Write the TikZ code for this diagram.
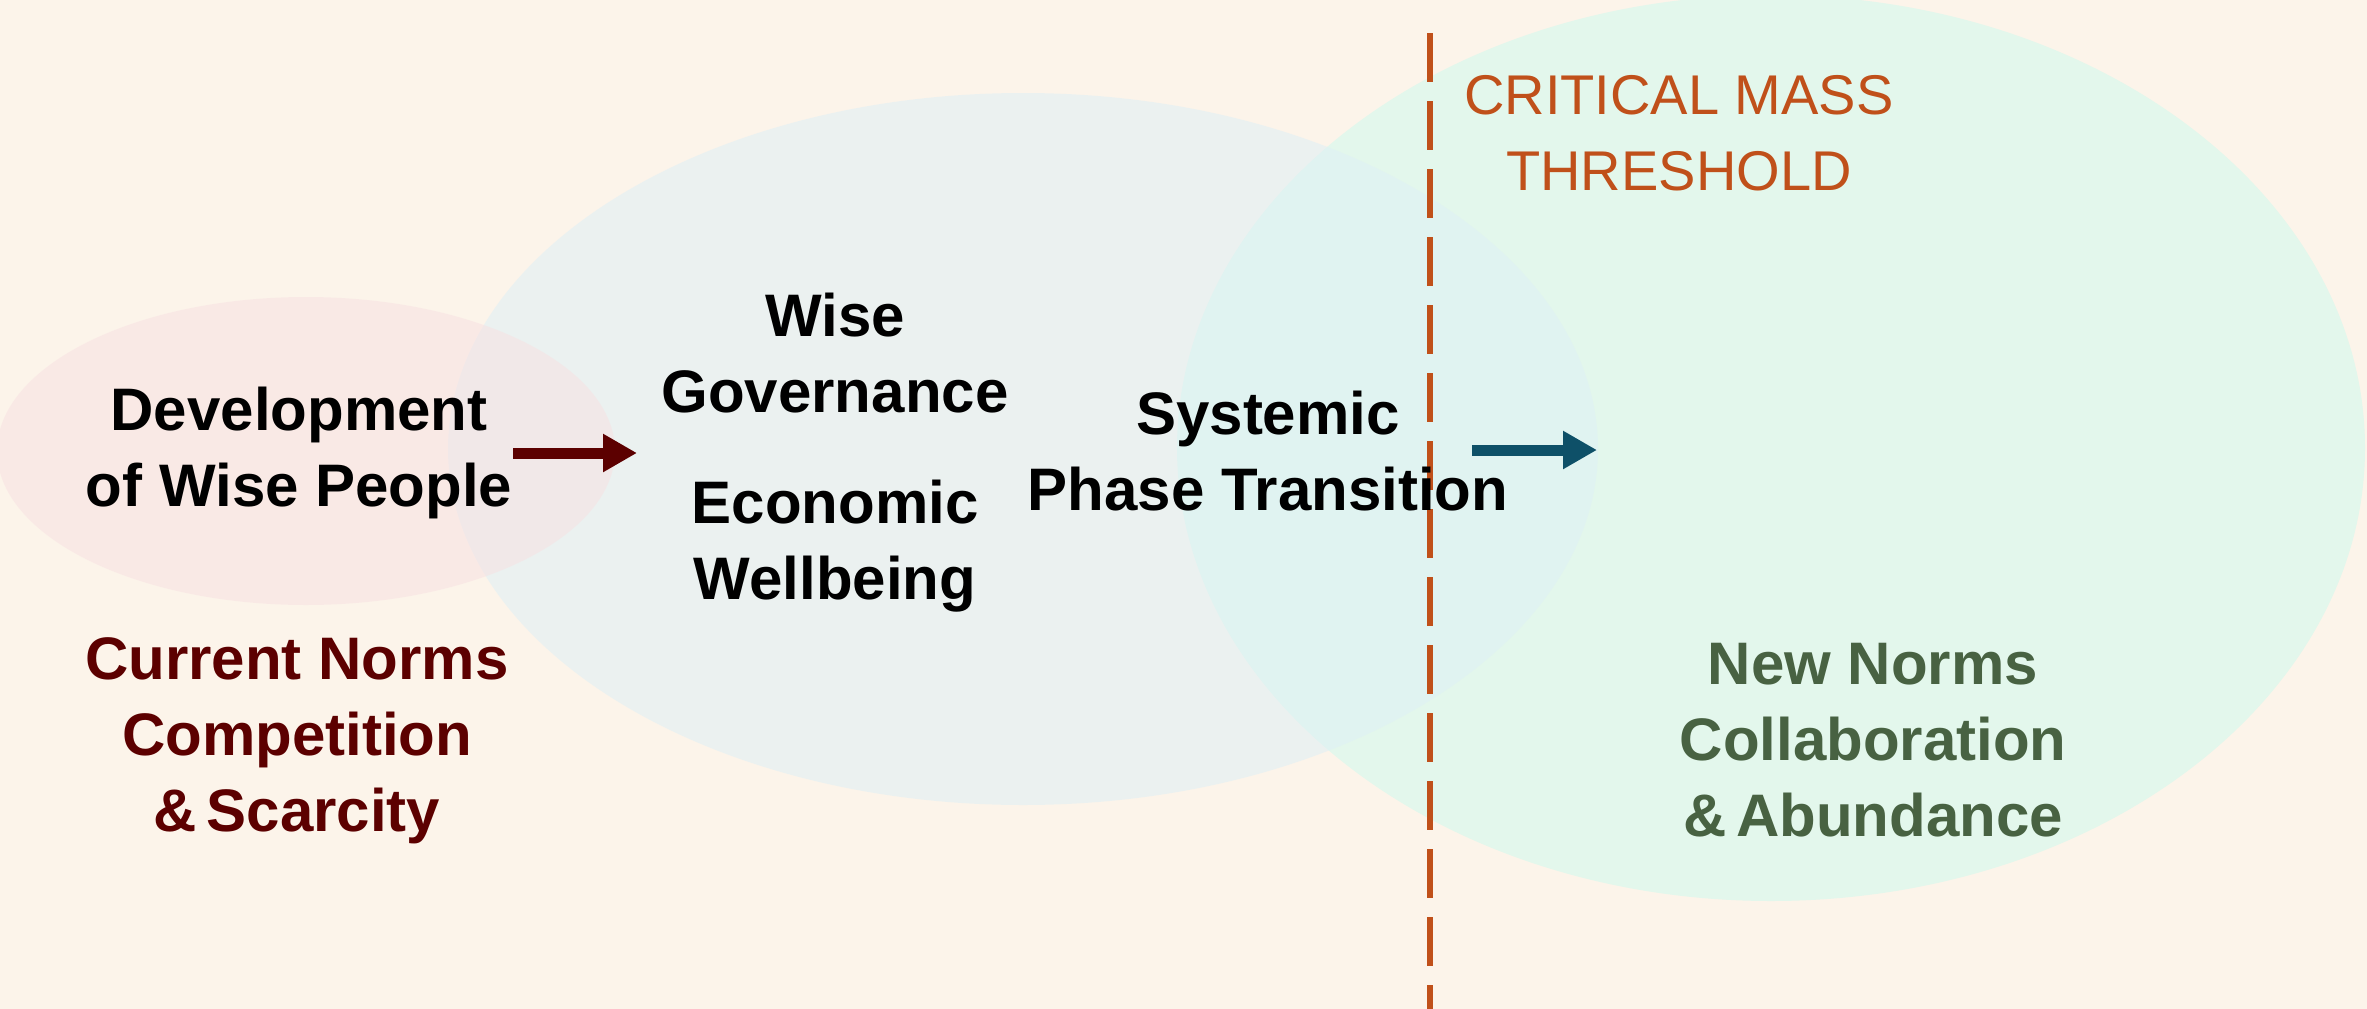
\documentclass[tikz,border=0pt]{standalone}
\usepackage{fontspec}
\setmainfont{Liberation Sans}
\usetikzlibrary{arrows.meta}
\definecolor{bgcol}{RGB}{252,244,234}
\definecolor{pinkfill}{RGB}{248,224,226}
\definecolor{bluefill}{RGB}{223,240,245}
\definecolor{greenfill}{RGB}{227,247,236}
\definecolor{darkred}{RGB}{92,0,0}
\definecolor{darkgreen}{RGB}{72,98,66}
\definecolor{orangeline}{RGB}{192,80,26}
\definecolor{tealarrow}{RGB}{14,80,104}
\tikzset{
  maintext/.style={font=\bfseries\fontsize{60}{76}\selectfont, align=center, inner sep=0pt, text=black},
  redtext/.style={maintext, text=darkred},
  greentext/.style={maintext, text=darkgreen},
  threshtext/.style={font=\fontsize{56}{76}\selectfont, align=center, inner sep=0pt, text=orangeline},
  fatarrow/.style={line width=11pt, -{Triangle[length=34pt,width=36pt]}},
}
\begin{document}
\begin{tikzpicture}[x=1pt,y=-1pt]
\useasboundingbox (0,0) rectangle (2367,1009);
\clip (0,0) rectangle (2367,1009);
\fill[bgcol] (0,0) rectangle (2367,1009);
% ellipses
\fill[greenfill] (1771,448) ellipse [x radius=594, y radius=453];
\fill[bluefill, fill opacity=0.56] (1023,449) ellipse [x radius=575, y radius=356];
\fill[pinkfill, fill opacity=0.5] (306,451) ellipse [x radius=309, y radius=154];
% threshold line
\coordinate (t1) at (1430,33);
\coordinate (t2) at (1430,1009);
\draw[orangeline, line width=6pt, dash pattern=on 49pt off 19pt] (t1) -- (t2);
% texts
\node[maintext] (dev) at (299,453) {Development\\of Wise People};
\node[maintext] (gov) at (835,353) {Wise\\Governance};
\node[maintext] (eco) at (835,546) {Economic\\Wellbeing};
\node[maintext] (sys) at (1268,451) {Systemic\\Phase Transition};
\node[redtext] (cur) at (297,741) {Current Norms\\Competition\\\&\,Scarcity};
\node[greentext] (new) at (1873,740) {New Norms\\Collaboration\\\&\,Abundance};
\node[threshtext] (crit) at (1679,133) {CRITICAL MASS\\THRESHOLD};
% arrows
\coordinate (r1) at (513,453);
\coordinate (r2) at (637,453);
\draw[fatarrow, darkred] (r1) -- (r2);
\coordinate (b1) at (1472,450);
\coordinate (b2) at (1597,450);
\draw[fatarrow, tealarrow] (b1) -- (b2);
\end{tikzpicture}
\end{document}
